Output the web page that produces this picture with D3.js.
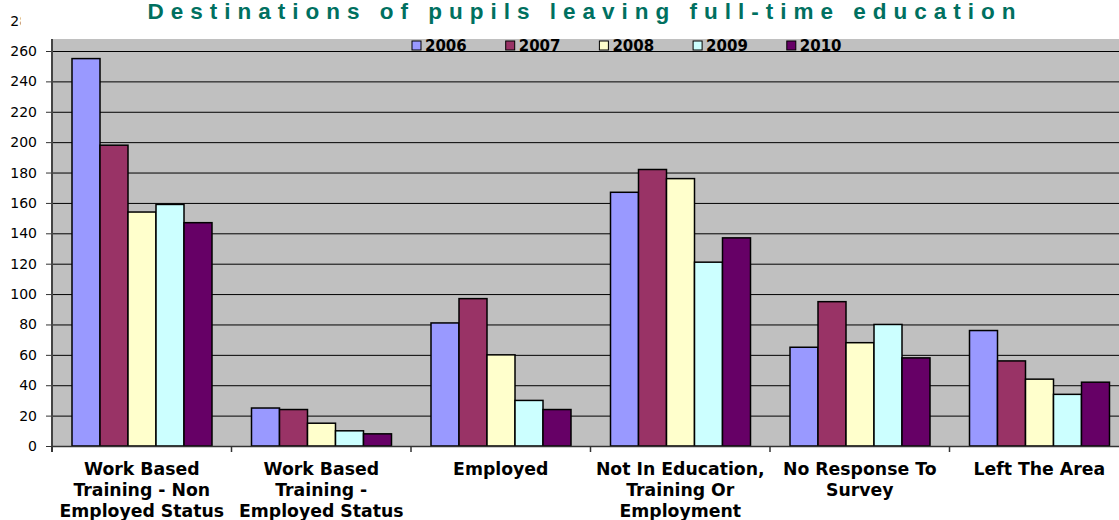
<!DOCTYPE html>
<html><head><meta charset="utf-8">
<script src="https://cdn.jsdelivr.net/npm/d3@7"></script>
<style>body{margin:0;background:#fff}svg{display:block}</style>
</head><body>
<svg id="c" width="1119" height="520"></svg>
<script>
const categories = [
  ["Work Based", "Training - Non", "Employed Status"],
  ["Work Based", "Training -", "Employed Status"],
  ["Employed"],
  ["Not In Education,", "Training Or", "Employment"],
  ["No Response To", "Survey"],
  ["Left The Area"]
];
const years = ["2006", "2007", "2008", "2009", "2010"];
const v2006 = [255, 25, 81, 167, 65, 76];
const v2007 = [198, 24, 97, 182, 95, 56];
const v2008 = [154, 15, 60, 176, 68, 44];
const v2009 = [159, 10, 30, 121, 80, 34];
const v2010 = [147, 8, 24, 137, 58, 42];
const yTicks = [0,20,40,60,80,100,120,140,160,180,200,220,240,260,280];
const colors = ["#9999FF", "#993366", "#FFFFCC", "#CCFFFF", "#660066"];

const series = [v2006, v2007, v2008, v2009, v2010];
const svg = d3.select("#c");
const left = 52, bottom = 446, plotTop = 39;
const groupW = 179.5;
const x0 = d3.scaleBand().domain(d3.range(categories.length)).range([left, left + groupW*categories.length]).paddingInner(0).paddingOuter(0);
const x1 = d3.scaleBand().domain(d3.range(years.length)).range([20, 160]);
const y = d3.scaleLinear().domain([0, 260]).range([bottom, 51]);

// plot background
svg.append("rect").attr("x", left).attr("y", plotTop).attr("width", 1119-left).attr("height", bottom-plotTop).attr("fill", "#C0C0C0");

// gridlines
svg.append("g").selectAll("line").data(yTicks.filter(t => t > 0 && y(t) > plotTop))
  .join("line").attr("x1", left).attr("x2", 1119).attr("y1", d => y(d)+0.5).attr("y2", d => y(d)+0.5)
  .attr("stroke", "#000").attr("stroke-width", 1);

// y axis
const yAxis = d3.axisLeft(y).tickValues(yTicks).tickSize(6).tickPadding(9);
const gy = svg.append("g").attr("transform", `translate(${left},0)`).call(yAxis);
gy.select(".domain").remove();
gy.selectAll(".tick line").attr("stroke", "#333");
gy.selectAll(".tick text").attr("font-family", "Verdana, 'DejaVu Sans', sans-serif").attr("font-size", 14).attr("fill", "#000");
// the top label is partly hidden in the reference
svg.append("clipPath").attr("id", "yclip").append("rect").attr("x", -left).attr("y", -20).attr("width", 20.5).attr("height", 40);
const t280 = gy.selectAll(".tick").filter(d => d === 280);
t280.select("line").remove();
t280.select("text").attr("clip-path", "url(#yclip)");
svg.append("line").attr("x1", left).attr("x2", left).attr("y1", plotTop).attr("y2", bottom+6).attr("stroke", "#444").attr("stroke-width", 2);

// bars
const groups = svg.append("g").selectAll("g").data(categories.map((c, i) => i)).join("g")
  .attr("transform", i => `translate(${x0(i)},0)`);
groups.selectAll("rect").data(i => series.map((s, k) => ({k, v: s[i]}))).join("rect")
  .attr("x", d => x1(d.k)).attr("width", x1.bandwidth())
  .attr("y", d => y(d.v)).attr("height", d => bottom - y(d.v))
  .attr("fill", d => colors[d.k]).attr("stroke", "#000").attr("stroke-width", 1.5);

// x axis
svg.append("line").attr("x1", left).attr("x2", 1119).attr("y1", bottom+0.5).attr("y2", bottom+0.5).attr("stroke", "#333").attr("stroke-width", 1.5);
svg.append("g").selectAll("line").data(d3.range(categories.length+1)).join("line")
  .attr("x1", i => left + i*groupW).attr("x2", i => left + i*groupW).attr("y1", bottom).attr("y2", bottom+6)
  .attr("stroke", "#333").attr("stroke-width", 1.5);
const labels = svg.append("g").selectAll("text").data(categories).join("text")
  .attr("x", (c, i) => x0(i) + groupW/2).attr("y", 475)
  .attr("text-anchor", "middle").attr("font-family", "Verdana, 'DejaVu Sans', sans-serif").attr("font-weight", "bold").attr("font-size", 17.3).attr("fill", "#000");
labels.selectAll("tspan").data(c => c).join("tspan")
  .attr("x", function(){ return this.parentNode.getAttribute("x"); })
  .attr("dy", (d, j) => j === 0 ? 0 : 21).text(d => d);

// legend
const leg = svg.append("g").selectAll("g").data(years).join("g")
  .attr("transform", (d, i) => `translate(${412 + i*93.7},40)`);
leg.append("rect").attr("x", 0).attr("y", 1).attr("width", 9).attr("height", 9)
  .attr("fill", (d, i) => colors[i]).attr("stroke", "#000").attr("stroke-width", 1);
leg.append("text").attr("x", 13).attr("y", 11).text(d => d)
  .attr("font-family", "Verdana, 'DejaVu Sans', sans-serif").attr("font-weight", "bold").attr("font-size", 15).attr("fill", "#000");

// title
svg.append("text").attr("x", 585).attr("y", 19).attr("text-anchor", "middle")
  .attr("font-family", "Arial, 'Liberation Sans', sans-serif").attr("font-weight", "bold").attr("font-size", 22.5)
  .attr("letter-spacing", 7).attr("fill", "#007060")
  .text("Destinations of pupils leaving full-time education");
</script>
</body></html>
